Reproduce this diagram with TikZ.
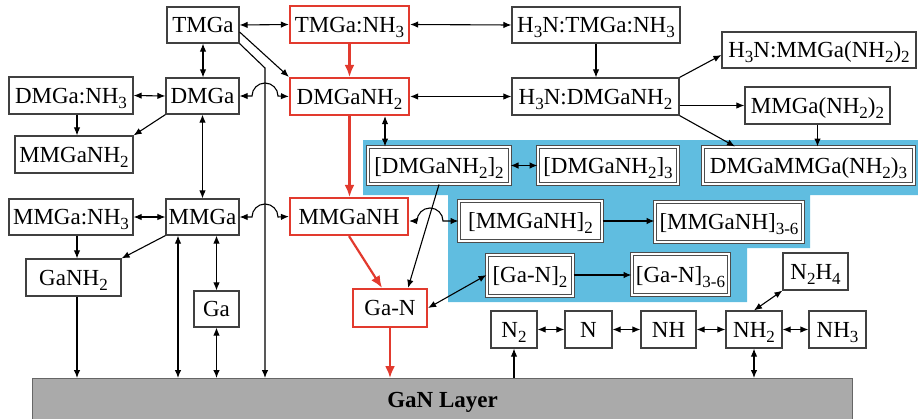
\documentclass[tikz,border=0pt]{standalone}
\usepackage{fontspec}
\setmainfont{Liberation Serif}
\usetikzlibrary{arrows.meta}
\definecolor{rd}{RGB}{226,58,46}
\definecolor{bl}{RGB}{96,189,224}
\definecolor{lay}{RGB}{170,170,170}
\newcommand\sbs[1]{\raisebox{-5pt}{\fontsize{17}{17}\selectfont #1}}
\begin{document}
\begin{tikzpicture}[x=1pt,y=-1pt,
  every node/.style={font=\fontsize{23}{26}\selectfont, inner sep=0pt, text height=18pt, text depth=3pt},
  bx/.style={draw=black!75, line width=1.2pt, fill=white},
  rbx/.style={draw=rd, line width=2.2pt, fill=white},
  dbx/.style={draw=black!70, line width=1pt, double=white, double distance=2pt, fill=white},
  arr/.style={line width=1.1pt, -{Latex[length=8pt,width=6.5pt]}},
  darr/.style={line width=1.1pt, {Latex[length=8pt,width=6.5pt]}-{Latex[length=8pt,width=6.5pt]}},
  rarr/.style={draw=rd, line width=2.2pt, -{Latex[length=12pt,width=10pt]}}]
\useasboundingbox (0,0) rectangle (918,418);
% blue cluster
\fill[bl] (363,140) -- (918,140) -- (918,195) -- (810,195) -- (810,248) -- (747,248) -- (747,302) -- (448,302) -- (448,195) -- (363,195) -- cycle;
% layer
\node[draw=black!60, fill=lay, line width=1pt, minimum width=820pt, minimum height=42pt, anchor=north west] (layer) at (32,378) {\textbf{GaN Layer}};
% nodes
\node[bx, minimum width=72pt, minimum height=36pt] (TMGa) at (203,25) {TMGa};
\node[rbx, minimum width=119pt, minimum height=37pt] (TMGaNH3) at (349.5,24.5) {TMGa:NH\sbs{3}};
\node[bx, minimum width=168pt, minimum height=36pt] (H3NTMGa) at (596,25) {H\sbs{3}N:TMGa:NH\sbs{3}};
\node[bx, minimum width=124pt, minimum height=37pt] (DMGaNH3) at (71,95.5) {DMGa:NH\sbs{3}};
\node[bx, minimum width=73pt, minimum height=36pt] (DMGa) at (202.5,96) {DMGa};
\node[rbx, minimum width=119pt, minimum height=37pt] (DMGaNH2) at (349.5,96.5) {DMGaNH\sbs{2}};
\node[bx, minimum width=167pt, minimum height=37pt] (H3NDMG) at (595.5,96.5) {H\sbs{3}N:DMGaNH\sbs{2}};
\node[bx, minimum width=194pt, minimum height=36pt] (H3NMMGa) at (819,50) {H\sbs{3}N:MMGa(NH\sbs{2})\sbs{2}};
\node[bx, minimum width=145pt, minimum height=37pt] (MMGaNHtt) at (817.5,105.5) {MMGa(NH\sbs{2})\sbs{2}};
\node[bx, minimum width=118pt, minimum height=37pt] (MMGaNH2l) at (74,154.5) {MMGaNH\sbs{2}};
\node[dbx, minimum width=142pt, minimum height=37pt] (DMGaNHdi) at (439,165.5) {[DMGaNH\sbs{2}]\sbs{2}};
\node[dbx, minimum width=140pt, minimum height=37pt] (DMGaNHtri) at (608,165.5) {[DMGaNH\sbs{2}]\sbs{3}};
\node[dbx, minimum width=211pt, minimum height=37pt] (DMGaMMGa) at (808.5,165.5) {DMGaMMGa(NH\sbs{2})\sbs{3}};
\node[bx, minimum width=124pt, minimum height=36pt] (MMGaNH3) at (71,217) {MMGa:NH\sbs{3}};
\node[bx, minimum width=73pt, minimum height=36pt] (MMGa) at (202.5,217) {MMGa};
\node[rbx, minimum width=118pt, minimum height=37pt] (MMGaNH) at (349,216.5) {MMGaNH};
\node[dbx, minimum width=143pt, minimum height=40pt] (MMGaNHdi) at (530.5,221) {[MMGaNH]\sbs{2}};
\node[dbx, minimum width=148pt, minimum height=40pt] (MMGaNHmany) at (729,222) {[MMGaNH]\sbs{3-6}};
\node[bx, minimum width=95pt, minimum height=37pt] (GaNH2) at (73.5,277.5) {GaNH\sbs{2}};
\node[dbx, minimum width=86pt, minimum height=41pt] (GaNdi) at (530,275) {[Ga-N]\sbs{2}};
\node[dbx, minimum width=97pt, minimum height=41pt] (GaNmany) at (680.5,274.5) {[Ga-N]\sbs{3-6}};
\node[bx, minimum width=65pt, minimum height=37pt] (N2H4) at (815.5,271.5) {N\sbs{2}H\sbs{4}};
\node[bx, minimum width=45pt, minimum height=36pt] (Ga) at (216.5,309) {Ga};
\node[rbx, minimum width=74pt, minimum height=38pt] (GaN) at (390,308) {Ga-N};
\node[bx, minimum width=46pt, minimum height=37pt] (N2) at (514,329.5) {N\sbs{2}};
\node[bx, minimum width=47pt, minimum height=37pt] (N) at (588.5,329.5) {N};
\node[bx, minimum width=55pt, minimum height=37pt] (NH) at (668.5,329.5) {NH};
\node[bx, minimum width=56pt, minimum height=37pt] (NH2) at (754,329.5) {NH\sbs{2}};
\node[bx, minimum width=57pt, minimum height=37pt] (NH3) at (837.5,329.5) {NH\sbs{3}};
\coordinate (bend) at (265,68);
% black connectors
\draw[darr] (TMGa.east) -- (TMGaNH3.west);
\draw[darr] (TMGaNH3.east) -- (H3NTMGa.west);
\draw[arr] (H3NTMGa.south) -- (H3NTMGa.south |- H3NDMG.north);
\draw[arr] ([yshift=-7pt]TMGa.east) -- (DMGaNH2.north west);
\draw[arr] (TMGa.south east) -- (bend) -- (bend |- layer.north);
\draw[darr] (TMGa.south) -- (TMGa.south |- DMGa.north);
\draw[darr] (DMGaNH3.east) -- (DMGa.west);
\draw[darr] (DMGa.east) -- (252,96) arc[start angle=180, end angle=0, radius=13pt] -- (DMGaNH2.west);
\draw[darr] (DMGaNH2.east) -- (H3NDMG.west);
\draw[arr] (H3NDMG.north east) -- ([yshift=-5pt]H3NMMGa.west);
\draw[arr] (H3NDMG.east |- MMGaNHtt.west) -- (MMGaNHtt.west);
\draw[arr] (H3NDMG.south east) -- ([xshift=-73.5pt]DMGaMMGa.north);
\draw[arr] (MMGaNHtt.south) -- (MMGaNHtt.south |- DMGaMMGa.north);
\draw[darr] ([xshift=35.5pt]DMGaNH2.south) -- ([xshift=35.5pt]DMGaNH2.south |- DMGaNHdi.north);
\draw[darr] (DMGaNHdi.east) -- (DMGaNHtri.west);
\draw[arr] (DMGaNHdi.south) -- ([xshift=18pt]GaN.north);
\draw[darr] (MMGaNH.east |- MMGaNHdi.west) -- (417,221) arc[start angle=180, end angle=0, radius=13pt] -- (MMGaNHdi.west);
\draw[arr] (MMGaNHdi.east) -- (MMGaNHdi.east -| MMGaNHmany.west);
\draw[darr] (GaN.east) -- (GaNdi.west);
\draw[arr] (GaNdi.east) -- (GaNdi.east -| GaNmany.west);
\draw[arr] (DMGa.south west) -- (MMGaNH2l.north east);
\draw[arr] ([xshift=6pt]DMGaNH3.south) -- ([xshift=6pt]DMGaNH3.south |- MMGaNH2l.north);
\draw[darr] (DMGa.south) -- (MMGa.north);
\draw[darr] (MMGaNH3.east) -- (MMGa.west);
\draw[darr] (MMGa.east) -- (252,217) arc[start angle=180, end angle=0, radius=13pt] -- (MMGaNH.west);
\draw[arr] ([xshift=6pt]MMGaNH3.south) -- ([xshift=6pt]MMGaNH3.south |- GaNH2.north);
\draw[arr] (MMGa.south west) -- (GaNH2.north east);
\draw[arr] ([xshift=3.5pt]GaNH2.south) -- ([xshift=3.5pt]GaNH2.south |- layer.north);
\draw[darr] ([xshift=-24.5pt]MMGa.south) -- ([xshift=-24.5pt]MMGa.south |- layer.north);
\draw[darr] (MMGa.south -| Ga.north) -- (Ga.north);
\draw[darr] (Ga.south) -- (Ga.south |- layer.north);
\draw[arr] (N2.south |- layer.north) -- (N2.south);
\draw[darr] (N2.east) -- (N.west);
\draw[darr] (N.east) -- (NH.west);
\draw[darr] (NH.east) -- (NH2.west);
\draw[darr] (NH2.east) -- (NH3.west);
\draw[darr] (NH2.north) -- (N2H4.south west);
\draw[darr] (NH2.south) -- (NH2.south |- layer.north);
% red pathway
\draw[rarr] (TMGaNH3.south) -- (DMGaNH2.north);
\draw[rarr] (DMGaNH2.south) -- (DMGaNH2.south |- MMGaNH.north);
\draw[rarr] (MMGaNH.south) -- ([xshift=-8pt]GaN.north);
\draw[rarr] (GaN.south) -- (GaN.south |- layer.north);
\end{tikzpicture}
\end{document}
